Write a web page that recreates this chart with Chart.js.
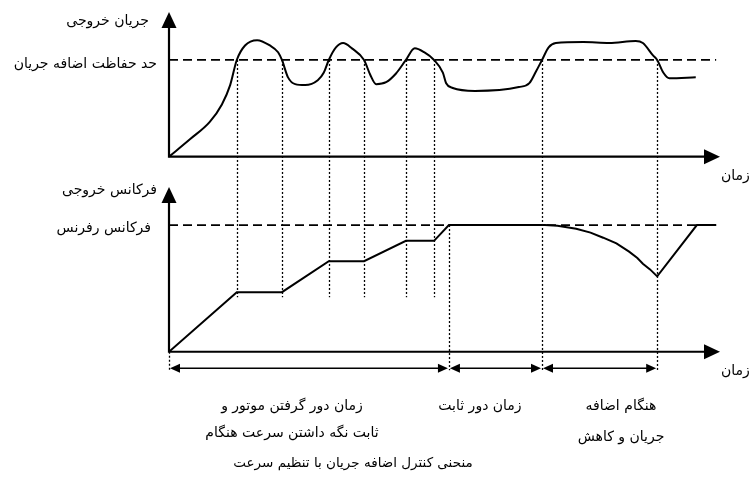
<!DOCTYPE html>
<html lang="fa">
<head>
<meta charset="UTF-8" />
<title>منحنی کنترل اضافه جریان با تنظیم سرعت</title>
<script src="https://cdn.jsdelivr.net/npm/chart.js"></script>
<style>
  html, body { margin: 0; padding: 0; background: #fff; }
  #wrap { position: relative; width: 752px; height: 479px; }
</style>
</head>
<body>
<div id="wrap"><canvas id="curveChart" width="752" height="479"></canvas></div>
<script>
  // time runs 0..100 along both plots (100 = tip of the time arrow)
  // current in % of the protection limit, frequency in % of the reference
  const currentTimes  = [0, 3.8, 7.4, 9.6, 11.1, 12.3, 13.8, 16.0, 18.3, 19.8, 20.5, 21.6, 22.9, 24.7, 27.0, 28.1, 29.0,
                         30.3, 31.6, 33.2, 35.4, 36.5, 37.6, 39.4, 41.2, 43.0, 44.6, 46.3, 48.1, 49.7, 50.3, 51.5, 55.5,
                         63.5, 65.4, 66.6, 67.7, 68.9, 70.2, 75.2, 79.9, 84.7, 86.0, 87.8, 88.6, 89.7, 90.8, 95.6];
  const currentValues = [0, 18, 36, 54, 74, 100, 115, 120.5, 115, 108, 100, 82, 75, 74, 79, 87, 100,
                         113, 117.5, 112, 100, 85, 75, 77, 86, 100, 112, 108, 100, 87, 76, 71, 68,
                         72, 76, 88, 100, 113, 117.5, 118.5, 117.5, 119.5, 117.5, 105, 100, 87, 81, 82];

  const freqTimes  = [0, 12.3, 20.5, 29.0, 35.4, 43.0, 48.1, 50.8, 68.2, 70.5, 73.9, 76.5, 78.8, 81.2, 83.5, 85.0, 86.0, 87.3, 88.6, 95.8, 99.3];
  const freqValues = [0, 47, 47, 71.5, 71.5, 87.5, 87.5, 100, 100, 99.5, 97, 94, 90, 85.5, 79, 74, 69.5, 65, 59.5, 100, 100];

  const limitLevel = 100;      // حد حفاظت اضافه جریان
  const refLevel = 100;        // فرکانس رفرنس
  const lineEnd = 99.3;

  // moments where the current crosses the limit and the speed is held / released
  const crossTimes = [12.3, 20.5, 29.0, 35.4, 43.0, 48.1];
  const holdGuideEnd = 43;     // on the frequency scale

  // phase boundaries along the bottom time axis
  const phaseTimes = [0, 50.8, 67.7, 88.6];
  const phaseGuideFrom = ['axis', 'ref', 'limit', 'limit'];
  const spanLevel = -13;       // arrow row, frequency scale

  const phaseLabels = [
    ['زمان دور گرفتن موتور و', 'ثابت نگه داشتن سرعت هنگام'],
    ['زمان دور ثابت'],
    ['هنگام اضافه', 'جریان و کاهش']
  ];
  const phaseLabelX = [292, 480, 621];
  const phaseLineGap = [27, 27, 31];

  const FONT = '"DejaVu Sans", sans-serif';

  function arrowHead(ctx, x, y, dir, len, half) {
    ctx.beginPath();
    if (dir === 'up') {
      ctx.moveTo(x, y); ctx.lineTo(x - half, y + len); ctx.lineTo(x + half, y + len);
    } else if (dir === 'right') {
      ctx.moveTo(x, y); ctx.lineTo(x - len, y - half); ctx.lineTo(x - len, y + half);
    } else {
      ctx.moveTo(x, y); ctx.lineTo(x + len, y - half); ctx.lineTo(x + len, y + half);
    }
    ctx.closePath();
    ctx.fill();
  }

  function label(ctx, text, x, y, align, size) {
    ctx.font = (size || 14) + 'px ' + FONT;
    ctx.textAlign = align;
    ctx.textBaseline = 'middle';
    ctx.fillStyle = '#000';
    ctx.fillText(text, x, y);
  }

  const diagramPlugin = {
    id: 'diagram',
    beforeDatasetsDraw(chart) {
      const ctx = chart.ctx;
      const x = chart.scales.x, yt = chart.scales.yTop, yb = chart.scales.yBot;
      ctx.save();
      ctx.strokeStyle = '#000';
      ctx.lineWidth = 1.3;
      ctx.setLineDash([2, 2]);
      crossTimes.forEach(t => {
        const px = Math.round(x.getPixelForValue(t)) + 0.5;
        ctx.beginPath();
        ctx.moveTo(px, yt.getPixelForValue(limitLevel));
        ctx.lineTo(px, yb.getPixelForValue(holdGuideEnd));
        ctx.stroke();
      });
      phaseTimes.forEach((t, i) => {
        const px = Math.round(x.getPixelForValue(t)) + 0.5;
        let from = yt.getPixelForValue(limitLevel);
        if (phaseGuideFrom[i] === 'axis') from = yb.getPixelForValue(0);
        if (phaseGuideFrom[i] === 'ref') from = yb.getPixelForValue(refLevel);
        ctx.beginPath();
        ctx.moveTo(px, from);
        ctx.lineTo(px, yb.getPixelForValue(spanLevel) + 2);
        ctx.stroke();
      });
      ctx.restore();
    },
    afterDatasetsDraw(chart) {
      const ctx = chart.ctx;
      const x = chart.scales.x, yt = chart.scales.yTop, yb = chart.scales.yBot;
      const x0 = x.getPixelForValue(0), xEnd = x.getPixelForValue(100);
      ctx.save();
      ctx.strokeStyle = '#000';
      ctx.fillStyle = '#000';
      ctx.lineWidth = 2.2;

      // axes of both plots
      [[yt, yt.max], [yb, 130]].forEach(([s, top]) => {
        const yz = s.getPixelForValue(0), ytop = s.getPixelForValue(top);
        ctx.beginPath();
        ctx.moveTo(x0, ytop + 10); ctx.lineTo(x0, yz);
        ctx.lineTo(xEnd - 10, yz);
        ctx.stroke();
        arrowHead(ctx, x0, ytop, 'up', 16, 7.5);
        arrowHead(ctx, xEnd, yz, 'right', 16, 7.5);
      });

      // phase spans
      const ys = yb.getPixelForValue(spanLevel);
      ctx.lineWidth = 1.5;
      for (let i = 0; i < phaseTimes.length - 1; i++) {
        const a = x.getPixelForValue(phaseTimes[i]) + 1, b = x.getPixelForValue(phaseTimes[i + 1]) - 1;
        ctx.beginPath();
        ctx.moveTo(a + 8, ys); ctx.lineTo(b - 8, ys);
        ctx.stroke();
        arrowHead(ctx, a, ys, 'left', 10, 4.5);
        arrowHead(ctx, b, ys, 'right', 10, 4.5);
      }

      // texts
      label(ctx, 'جریان خروجی', 149, yt.getPixelForValue(yt.max) + 9, 'right');
      label(ctx, 'حد حفاظت اضافه جریان', 157, yt.getPixelForValue(limitLevel) + 4, 'right');
      label(ctx, 'زمان', 721, yt.getPixelForValue(0) + 20, 'left');
      label(ctx, 'فرکانس خروجی', 157, yb.getPixelForValue(130) + 3, 'right');
      label(ctx, 'فرکانس رفرنس', 151, yb.getPixelForValue(refLevel) + 3, 'right');
      label(ctx, 'زمان', 721, ys + 3, 'left');
      phaseLabels.forEach((lines, i) => {
        lines.forEach((txt, j) => label(ctx, txt, phaseLabelX[i], 406 + j * phaseLineGap[i], 'center'));
      });
      label(ctx, 'منحنی کنترل اضافه جریان با تنظیم سرعت', 353, 463, 'center', 13.5);
      ctx.restore();
    }
  };

  const toPoints = (xs, ys) => xs.map((t, i) => ({ x: t, y: ys[i] }));

  new Chart(document.getElementById('curveChart').getContext('2d'), {
    type: 'line',
    data: {
      datasets: [
        {
          label: 'حد حفاظت اضافه جریان',
          data: [{ x: 0, y: limitLevel }, { x: lineEnd, y: limitLevel }],
          yAxisID: 'yTop', borderColor: '#000', borderWidth: 1.8, borderDash: [9, 5], pointRadius: 0
        },
        {
          label: 'فرکانس رفرنس',
          data: [{ x: 0, y: refLevel }, { x: lineEnd, y: refLevel }],
          yAxisID: 'yBot', borderColor: '#000', borderWidth: 1.8, borderDash: [9, 5], pointRadius: 0
        },
        {
          label: 'جریان خروجی',
          data: toPoints(currentTimes, currentValues),
          yAxisID: 'yTop', borderColor: '#000', borderWidth: 2, pointRadius: 0,
          cubicInterpolationMode: 'monotone'
        },
        {
          label: 'فرکانس خروجی',
          data: toPoints(freqTimes, freqValues),
          yAxisID: 'yBot', borderColor: '#000', borderWidth: 2, pointRadius: 0, tension: 0
        }
      ]
    },
    options: {
      responsive: false,
      animation: false,
      layout: { padding: { left: 169, right: 32, top: 12, bottom: 109 } },
      plugins: { legend: { display: false }, tooltip: { enabled: false } },
      scales: {
        x: { type: 'linear', min: 0, max: 100, display: false },
        yTop: { min: -220.6, max: 149.6, display: false },
        yBot: { min: -14.4, max: 268.1, display: false }
      }
    },
    plugins: [diagramPlugin]
  });
</script>
</body>
</html>
